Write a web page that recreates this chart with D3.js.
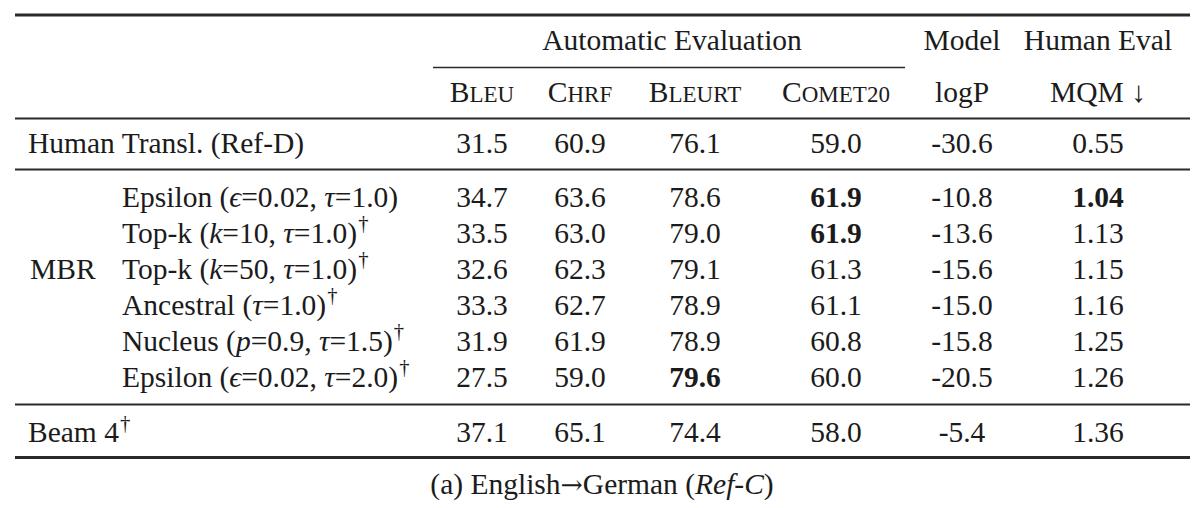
<!DOCTYPE html>
<html>
<head>
<meta charset="utf-8">
<script src="https://cdn.jsdelivr.net/npm/d3@7/dist/d3.min.js"></script>
<style>
  html, body { margin: 0; padding: 0; background: #fff; }
  svg { display: block; }
</style>
</head>
<body>
<svg id="chart" width="1200" height="508"></svg>
<script>
// ---------- DATA ----------
const metrics = ["BLEU", "CHRF", "BLEURT", "COMET20", "logP", "MQM"];
const metricHeaders = [["B", "LEU"], ["C", "HRF"], ["B", "LEURT"], ["C", "OMET20"], ["logP", ""], ["MQM ↓", ""]];
const groupHeaders = ["Automatic Evaluation", "Model", "Human Eval"];

const humanLabel = "Human Transl. (Ref-D)";
const mbrGroup = "MBR";
const mbrMethods = [
  "Epsilon (*ϵ*=0.02, *τ*=1.0)",
  "Top-k (*k*=10, *τ*=1.0)^†",
  "Top-k (*k*=50, *τ*=1.0)^†",
  "Ancestral (*τ*=1.0)^†",
  "Nucleus (*p*=0.9, *τ*=1.5)^†",
  "Epsilon (*ϵ*=0.02, *τ*=2.0)^†"
];
const beamLabel = "Beam 4^†";

// values: [human, mbr x6, beam]
const bleu    = ["31.5", "34.7", "33.5", "32.6", "33.3", "31.9", "27.5", "37.1"];
const chrf    = ["60.9", "63.6", "63.0", "62.3", "62.7", "61.9", "59.0", "65.1"];
const bleurt  = ["76.1", "78.6", "79.0", "79.1", "78.9", "78.9", "79.6", "74.4"];
const comet20 = ["59.0", "61.9", "61.9", "61.3", "61.1", "60.8", "60.0", "58.0"];
const logP    = ["-30.6", "-10.8", "-13.6", "-15.6", "-15.0", "-15.8", "-20.5", "-5.4"];
const mqm     = ["0.55", "1.04", "1.13", "1.15", "1.16", "1.25", "1.26", "1.36"];
const boldCells = [["COMET20", 1], ["COMET20", 2], ["BLEURT", 6], ["MQM", 1]];

const caption = "(a) English→German (*Ref-C*)";

// ---------- LAYOUT ----------
const FONT = "'Liberation Serif', 'Times New Roman', Times, serif";
const ARROW_FONT = "'DejaVu Serif', serif";
const FS = 29.5;
const INK = "#1b1b1b";
const svg = d3.select("#chart").attr("font-family", FONT);
const columns = { BLEU: bleu, CHRF: chrf, BLEURT: bleurt, COMET20: comet20, logP: logP, MQM: mqm };

const x = d3.scaleOrdinal().domain(metrics).range([482, 580, 695, 836, 962, 1098]);
const rowY = d3.scaleOrdinal().domain(d3.range(8))
  .range([153, 206.5, 242.5, 278.5, 314.5, 350.5, 386.5, 442]);
const mbrY = d3.scaleLinear().domain([0, mbrMethods.length - 1]).range([206.5, 386.5]);

const rules = [
  { y: 15, x1: 15, x2: 1190, w: 2.8 },
  { y: 118.5, x1: 15, x2: 1190, w: 2 },
  { y: 169.5, x1: 15, x2: 1190, w: 2 },
  { y: 404.5, x1: 15, x2: 1190, w: 2 },
  { y: 457.5, x1: 15, x2: 1190, w: 2.8 },
  { y: 67.5, x1: 433, x2: 905, w: 1.3 }
];
svg.selectAll("line.rule").data(rules).join("line")
  .attr("class", "rule")
  .attr("x1", d => d.x1).attr("x2", d => d.x2)
  .attr("y1", d => d.y).attr("y2", d => d.y)
  .attr("stroke", "#2a2a2a").attr("stroke-width", d => d.w);

// rich text: *italic*, ^superscript, long arrow in a fallback font
function rich(sel, str, size) {
  const parts = [];
  const re = /(\*[^*]+\*|\^[^ ]+|→)/g;
  let last = 0, m;
  while ((m = re.exec(str)) !== null) {
    if (m.index > last) parts.push({ t: str.slice(last, m.index) });
    if (m[0][0] === "*") parts.push({ t: m[0].slice(1, -1), it: true });
    else if (m[0][0] === "^") parts.push({ t: m[0].slice(1), sup: true });
    else parts.push({ t: m[0], arrow: true });
    last = m.index + m[0].length;
  }
  if (last < str.length) parts.push({ t: str.slice(last) });
  sel.attr("font-size", size).attr("fill", INK);
  parts.forEach(p => {
    const ts = sel.append("tspan").text(p.t);
    if (p.it) ts.attr("font-style", "italic");
    if (p.sup) ts.attr("font-size", size * 0.7).attr("dy", -size * 0.42).attr("dx", 1);
    if (p.arrow) ts.attr("font-family", ARROW_FONT).attr("font-size", size * 0.9);
  });
}

const groupX = [672, 962, 1098];
groupHeaders.forEach((g, i) => {
  svg.append("text").attr("x", groupX[i]).attr("y", 50).attr("fill", INK)
    .attr("text-anchor", "middle").attr("font-size", FS).text(g);
});

svg.selectAll("text.mh").data(metrics).join("text")
  .attr("class", "mh")
  .attr("x", d => x(d)).attr("y", 102)
  .attr("text-anchor", "middle")
  .each(function (d, i) {
    const [a, b] = metricHeaders[i];
    const t = d3.select(this);
    rich(t, a, FS);
    if (b) t.append("tspan").attr("font-size", FS * 0.78).text(b);
  });

rich(svg.append("text").attr("x", 28).attr("y", rowY(0)), humanLabel, FS);
svg.append("text").attr("x", 30).attr("y", mbrY(2)).attr("font-size", FS).attr("fill", INK).text(mbrGroup);
mbrMethods.forEach((mth, i) => {
  rich(svg.append("text").attr("x", 122).attr("y", mbrY(i)), mth, FS);
});
rich(svg.append("text").attr("x", 28).attr("y", rowY(7)), beamLabel, FS);

const cells = [];
metrics.forEach(mt => columns[mt].forEach((v, r) => cells.push({ mt, r, v })));
const isBold = (mt, r) => boldCells.some(b => b[0] === mt && b[1] === r);
svg.selectAll("text.val").data(cells).join("text")
  .attr("class", "val")
  .attr("x", d => x(d.mt)).attr("y", d => rowY(d.r))
  .attr("text-anchor", "middle")
  .attr("font-size", FS).attr("fill", INK)
  .attr("font-weight", d => isBold(d.mt, d.r) ? "bold" : "normal")
  .text(d => d.v);

rich(svg.append("text").attr("x", 602).attr("y", 494).attr("text-anchor", "middle"), caption, FS);
</script>
</body>
</html>
